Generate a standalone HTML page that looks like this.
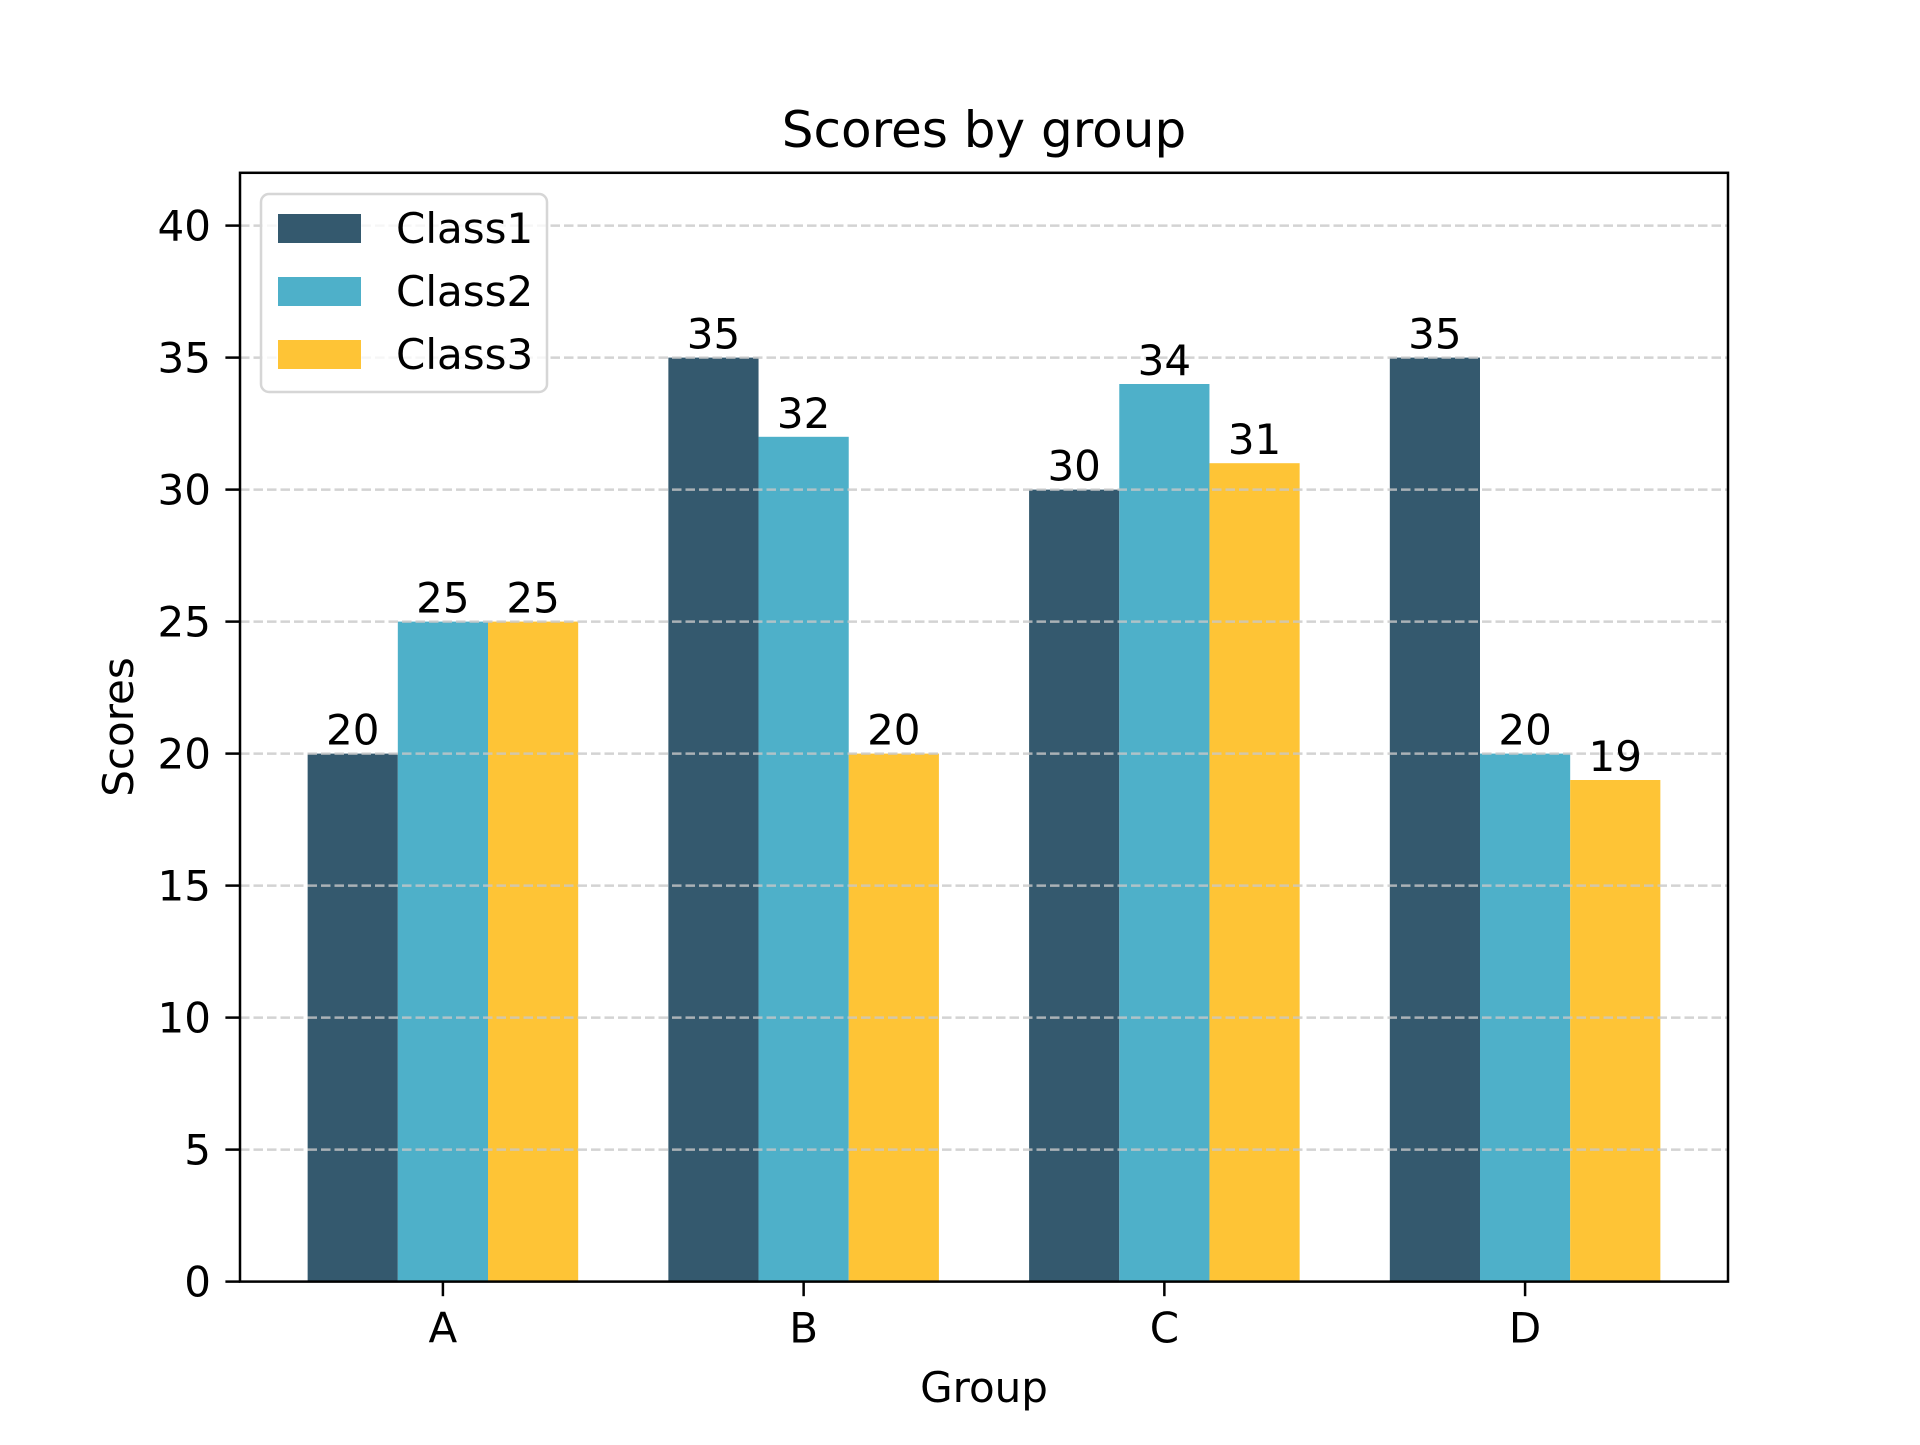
<!DOCTYPE html>
<html><head><meta charset="utf-8"><style>
body{margin:0;background:#fff}
svg text{font-family:"DejaVu Sans","Liberation Sans",sans-serif;fill:#000}
</style></head><body>
<svg id="chart" width="1920" height="1440" viewBox="0 0 1920 1440" xmlns="http://www.w3.org/2000/svg">
<rect width="1920" height="1440" fill="#fff"/>
<text x="984" y="147" font-size="50" text-anchor="middle">Scores by group</text>
<text x="984" y="1402" font-size="42" text-anchor="middle">Group</text>
<text transform="translate(133,727) rotate(-90)" font-size="42" text-anchor="middle">Scores</text>
<g id="bars"></g><g id="grid"></g><g id="labels"></g><g id="ticks"></g>
<rect x="240" y="172.8" width="1488" height="1108.8" fill="none" stroke="#000" stroke-width="2.5"/>
<g>
<rect x="261" y="194" width="286" height="198" rx="8" fill="#fff" fill-opacity="0.8" stroke="#d6d6d6" stroke-width="2.5"/>
<rect x="278" y="214" width="83" height="29" fill="#34596e"/>
<text x="396" y="243" font-size="42">Class1</text>
<rect x="278" y="277" width="83" height="29" fill="#4eb0c9"/>
<text x="396" y="306" font-size="42">Class2</text>
<rect x="278" y="340" width="83" height="29" fill="#fec436"/>
<text x="396" y="369" font-size="42">Class3</text>
</g>
</svg>
<script>
const categories = ["A","B","C","D"];
const class1 = [20,35,30,35];
const class2 = [25,32,34,20];
const class3 = [25,20,31,19];
const yTicks = [0,5,10,15,20,25,30,35,40];
const seriesNames = ["class1","class2","class3"];
const colors = ["#34596e","#4eb0c9","#fec436"];
const NS="http://www.w3.org/2000/svg";
const L=240,R=1728,T=172.8,B=1281.6,yMax=42;
const n=categories.length, bw=0.25;
const xmin=-bw*1.5-0.05*(n-1+3*bw), xmax=(n-1)+bw*1.5+0.05*(n-1+3*bw);
const xs=v=>L+(v-xmin)/(xmax-xmin)*(R-L);
const ys=v=>B-v/yMax*(B-T);
function mk(tag,attrs,parent){const e=document.createElementNS(NS,tag);for(const k in attrs)e.setAttribute(k,attrs[k]);document.getElementById(parent).appendChild(e);return e;}
[class1,class2,class3].forEach((s,si)=>{
  s.forEach((v,i)=>{
    const c=i+(si-1)*bw;
    const r=mk('rect',{x:xs(c-bw/2),y:ys(v),width:xs(c+bw/2)-xs(c-bw/2),height:ys(0)-ys(v),fill:colors[si]},'bars');
    
    
    const t=mk('text',{x:xs(c),y:ys(v)-9,'font-size':42,'text-anchor':'middle'},'labels');
    t.textContent=v;
    
    
  });
});
yTicks.forEach(v=>{
  if(v>0){const g=mk('line',{x1:L,x2:R,y1:ys(v),y2:ys(v),stroke:'#c8c8c8','stroke-opacity':0.8,'stroke-width':2.5,'stroke-dasharray':'9.5,4'},'grid');
  
  }
  const tk=mk('line',{x1:L-14.6,x2:L,y1:ys(v),y2:ys(v),stroke:'#000','stroke-width':2.5},'ticks');
  
  
  const t=mk('text',{x:L-29,y:ys(v)+15,'font-size':42,'text-anchor':'end'},'ticks');
  t.textContent=v;
  
  
});
categories.forEach((c,i)=>{
  const tk=mk('line',{x1:xs(i),x2:xs(i),y1:B,y2:B+14.6,stroke:'#000','stroke-width':2.5},'ticks');
  
  
  const t=mk('text',{x:xs(i),y:B+61,'font-size':42,'text-anchor':'middle'},'ticks');
  t.textContent=c;
  
  
});
</script>
</body></html>
